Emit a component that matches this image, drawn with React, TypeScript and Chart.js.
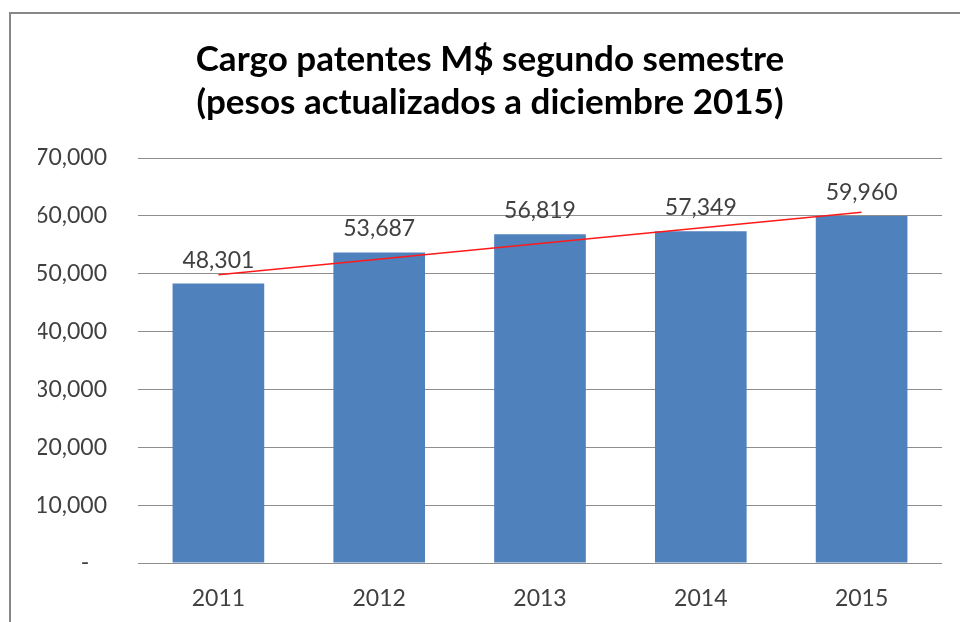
import React, { useEffect, useRef } from "react";
import { Chart, registerables } from "chart.js";

Chart.register(...registerables);

const categories = ["2011", "2012", "2013", "2014", "2015"];
const cargoValues = [48301, 53687, 56819, 57349, 59960];
const trendValues = [49827, null, null, null, 60619];
const titleLines = ["Cargo patentes M$ segundo semestre", "(pesos actualizados a diciembre 2015)"];
const yMin = 0;
const yMax = 70000;
const yStep = 10000;

const fmt = (v: number) => v.toLocaleString("en-US");

const dataLabelPlugin = {
  id: "dataLabels",
  afterDatasetsDraw(chart: any) {
    const meta = chart.getDatasetMeta(1);
    const ctx = chart.ctx;
    ctx.save();
    ctx.font = "23px Lato";
    ctx.fillStyle = "#404040";
    ctx.textAlign = "center";
    ctx.textBaseline = "alphabetic";
    meta.data.forEach((el: any, i: number) => {
      ctx.fillText(fmt(cargoValues[i]), el.x, el.y - 16);
    });
    ctx.restore();
  },
};

export default function App() {
  const ref = useRef<HTMLCanvasElement | null>(null);
  useEffect(() => {
    if (!ref.current) return;
    const chart = new Chart(ref.current, {
      type: "bar",
      data: {
        labels: categories,
        datasets: [
          {
            type: "line" as any,
            data: trendValues as any,
            borderColor: "#FF1A1A",
            borderWidth: 1.5,
            pointRadius: 0,
            spanGaps: true,
            order: 0,
          },
          {
            type: "bar",
            data: cargoValues,
            backgroundColor: "#4F81BD",
            borderWidth: 0,
            barPercentage: 0.57,
            categoryPercentage: 1,
            order: 1,
          },
        ],
      },
      options: {
        animation: false,
        responsive: false,
        maintainAspectRatio: false,
        layout: { padding: { left: 38, right: 18, top: 0, bottom: 0 } },
        plugins: {
          legend: { display: false },
          tooltip: { enabled: false },
          title: {
            display: true,
            text: titleLines,
            color: "#000000",
            font: { family: "Lato", size: 35, weight: "bold", lineHeight: 1.23 },
            padding: { top: 38, bottom: 33.9 },
          },
        },
        scales: {
          x: {
            grid: { display: false },
            border: { display: false },
            ticks: { color: "#404040", font: { family: "Lato", size: 23 }, padding: 14 },
            afterFit: (axis: any) => {
              axis.height = 59;
            },
          },
          y: {
            min: yMin,
            max: yMax,
            grid: { color: "#8E8E8E", lineWidth: 1, drawTicks: false },
            border: { display: false },
            ticks: {
              stepSize: yStep,
              color: "#404040",
              font: { family: "Lato", size: 23 },
              padding: 31,
              callback: (v: any) => (Number(v) === 0 ? "-   " : fmt(Number(v))),
            },
            afterFit: (axis: any) => {
              axis.width = 100;
            },
          },
        },
      },
      plugins: [dataLabelPlugin],
    });
    return () => chart.destroy();
  }, []);

  return (
    <div
      style={{
        position: "fixed",
        left: 0,
        top: 0,
        width: 960,
        height: 622,
        overflow: "hidden",
        background: "#ffffff",
      }}
    >
      <div
        style={{
          position: "absolute",
          left: 9,
          top: 12,
          width: 1200,
          height: 1200,
          border: "2px solid #878787",
          boxSizing: "border-box",
        }}
      />
      <canvas ref={ref} width={960} height={622} style={{ position: "absolute", left: 0, top: 0 }} />
    </div>
  );
}
